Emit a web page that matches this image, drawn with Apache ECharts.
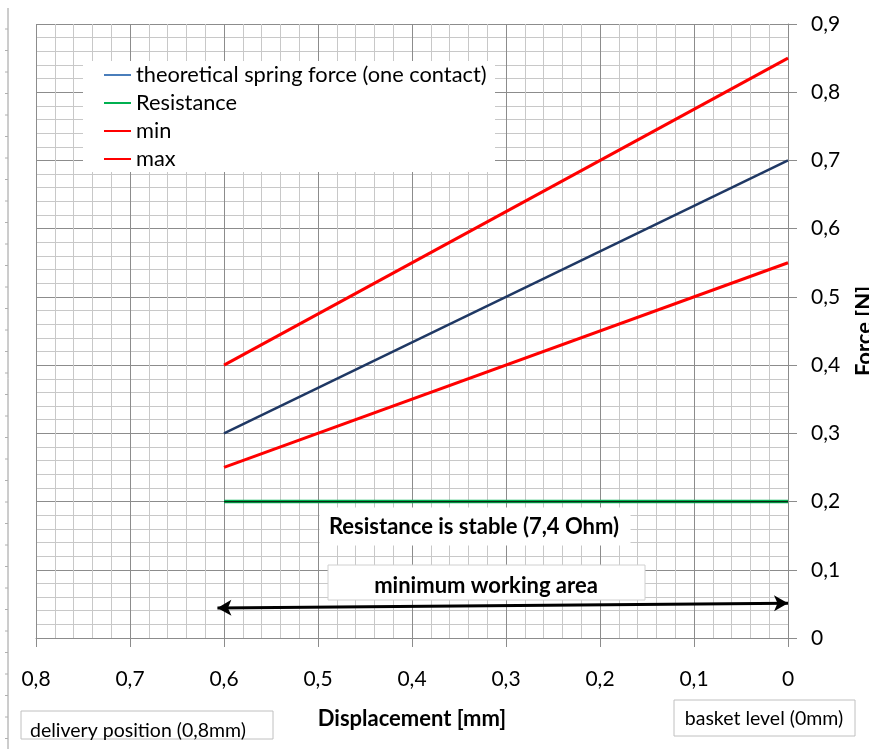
<!DOCTYPE html>
<html>
<head>
<meta charset="utf-8">
<script src="https://cdn.jsdelivr.net/npm/echarts@6/dist/echarts.min.js"></script>
<style>html,body{margin:0;padding:0;background:#fff;overflow:hidden;}#c{width:869px;height:749px;}</style>
</head>
<body>
<div id="c"></div>
<script>
// Data
const displacement = [0.6, 0];
const theoretical = [0.3, 0.7];
const resistance = [0.2, 0.2];
const minForce = [0.25, 0.55];
const maxForce = [0.4, 0.85];
const arrowX = [0.607, 0];
const arrowY = [0.044, 0.051];
const seriesNames = ['theoretical spring force (one contact)', 'Resistance', 'min', 'max'];

const FONT = 'Lato';
const fmt = v => (Math.abs(v) < 1e-9 ? '0' : v.toFixed(1).replace('.', ','));
const pts = ys => displacement.map((x, i) => [x, ys[i]]);

const chart = echarts.init(document.getElementById('c'));

function box(x, y, w, h, txt, opts) {
  return {
    type: 'group', z: 20,
    children: [
      { type: 'rect', z: 20, shape: { x: x, y: y, width: w, height: h },
        style: { fill: '#fff', stroke: opts.stroke || '#fff', lineWidth: 1 } },
      { type: 'text', z: 21, x: opts.tx, y: opts.ty,
        style: { text: txt, font: opts.font, fill: '#000',
                 align: opts.align || 'center', verticalAlign: 'middle' } }
    ]
  };
}

const leftTicks = [];
for (let i = 0; i < 35; i++) {
  const yy = 29 + i * 21.5;
  leftTicks.push({ type: 'line', shape: { x1: 5, y1: yy, x2: 8, y2: yy }, style: { stroke: '#b0b0b0', lineWidth: 1 } });
}

chart.setOption({
  animation: false,
  backgroundColor: '#fff',
  textStyle: { fontFamily: FONT },
  grid: { left: 36, right: 81, top: 24, bottom: 111, containLabel: false, outerBoundsMode: 'none' },
  legend: {
    orient: 'vertical', left: 104, top: 64, padding: 0,
    itemWidth: 27, itemHeight: 14, itemGap: 6,
    icon: 'path://M0,6 L27,6 L27,8 L0,8 Z',
    textStyle: { fontFamily: FONT, fontSize: 21.8, color: '#000', lineHeight: 20 },
    z: 30,
    data: [
      { name: seriesNames[0], itemStyle: { color: '#4a7ebb' } },
      { name: seriesNames[1], itemStyle: { color: '#00b050' } },
      { name: seriesNames[2], itemStyle: { color: '#ff0000' } },
      { name: seriesNames[3], itemStyle: { color: '#ff0000' } }
    ]
  },
  xAxis: {
    type: 'value', inverse: true, min: 0, max: 0.8, interval: 0.1,
    name: 'Displacement [mm]', nameLocation: 'middle', nameGap: 70,
    nameTextStyle: { fontFamily: FONT, fontSize: 22, fontWeight: 'bold', color: '#000' },
    axisLine: { show: true, lineStyle: { color: '#8c8c8c', width: 1 } },
    axisTick: { show: true, length: 9, inside: false, lineStyle: { color: '#8c8c8c' } },
    axisLabel: { formatter: fmt, fontSize: 21, color: '#000', margin: 31, fontFamily: FONT },
    splitLine: { show: true, lineStyle: { color: '#8c8c8c', width: 1 } },
    minorTick: { show: false, splitNumber: 5 },
    minorSplitLine: { show: true, lineStyle: { color: '#c8c8c8', width: 1 } }
  },
  yAxis: {
    type: 'value', position: 'right', min: 0, max: 0.9, interval: 0.1,
    name: 'Force [N]', nameLocation: 'middle', nameGap: 66, nameRotate: 90,
    nameTextStyle: { fontFamily: FONT, fontSize: 22, fontWeight: 'bold', color: '#000' },
    axisLine: { show: true, lineStyle: { color: '#8c8c8c', width: 1 } },
    axisTick: { show: true, length: 9, inside: false, lineStyle: { color: '#8c8c8c' } },
    axisLabel: { formatter: fmt, fontSize: 21, color: '#000', margin: 23, fontFamily: FONT },
    splitLine: { show: true, lineStyle: { color: '#8c8c8c', width: 1 } },
    minorTick: { show: false, splitNumber: 5 },
    minorSplitLine: { show: true, lineStyle: { color: '#c8c8c8', width: 1 } }
  },
  series: [
    { name: seriesNames[0], type: 'line', symbol: 'none', data: pts(theoretical), z: 5,
      lineStyle: { color: '#1f3864', width: 2.5 }, itemStyle: { color: '#1f3864' } },
    { name: seriesNames[1], type: 'line', symbol: 'none', data: pts(resistance), z: 5,
      lineStyle: { color: '#00b050', width: 3.5 }, itemStyle: { color: '#00b050' } },
    { name: 'Resistance core', type: 'line', symbol: 'none', data: pts(resistance), z: 6,
      lineStyle: { color: '#0b2a14', width: 1.2 }, itemStyle: { color: '#0b2a14' } },
    { name: seriesNames[2], type: 'line', symbol: 'none', data: pts(minForce), z: 5,
      lineStyle: { color: '#ff0000', width: 3 }, itemStyle: { color: '#ff0000' } },
    { name: seriesNames[3], type: 'line', symbol: 'none', data: pts(maxForce), z: 5,
      lineStyle: { color: '#ff0000', width: 3 }, itemStyle: { color: '#ff0000' } },
    { name: 'arrow', type: 'line', symbol: 'none', data: [], z: 25,
      markLine: {
        silent: true, symbol: ['arrow', 'arrow'], symbolSize: [12, 14],
        label: { show: false },
        lineStyle: { color: '#000', width: 3, type: 'solid' },
        data: [[{ coord: [arrowX[0], arrowY[0]] }, { coord: [arrowX[1], arrowY[1]] }]]
      }
    }
  ],
  graphic: [
    { type: 'rect', z: 10, shape: { x: 83, y: 61, width: 412, height: 111 }, style: { fill: '#fff' } },
    { type: 'line', shape: { x1: 8, y1: 8, x2: 8, y2: 749 }, style: { stroke: '#9a9a9a', lineWidth: 1 } },
    ...leftTicks,
    box(320, 508, 310, 37, 'Resistance is stable (7,4 Ohm)', { tx: 474, ty: 527, font: 'bold 22px ' + FONT }),
    box(328, 565, 317, 35, 'minimum working area', { tx: 486, ty: 586, font: 'bold 22px ' + FONT, stroke: '#d0d0d0' }),
    box(21, 711, 252, 28, 'delivery position (0,8mm)', { tx: 30, ty: 731, align: 'left', font: '19.5px ' + FONT, stroke: '#c0c0c0' }),
    box(674, 700, 181, 36, 'basket level (0mm)', { tx: 764, ty: 719, font: '19.5px ' + FONT, stroke: '#c0c0c0' })
  ]
});
</script>
</body>
</html>
